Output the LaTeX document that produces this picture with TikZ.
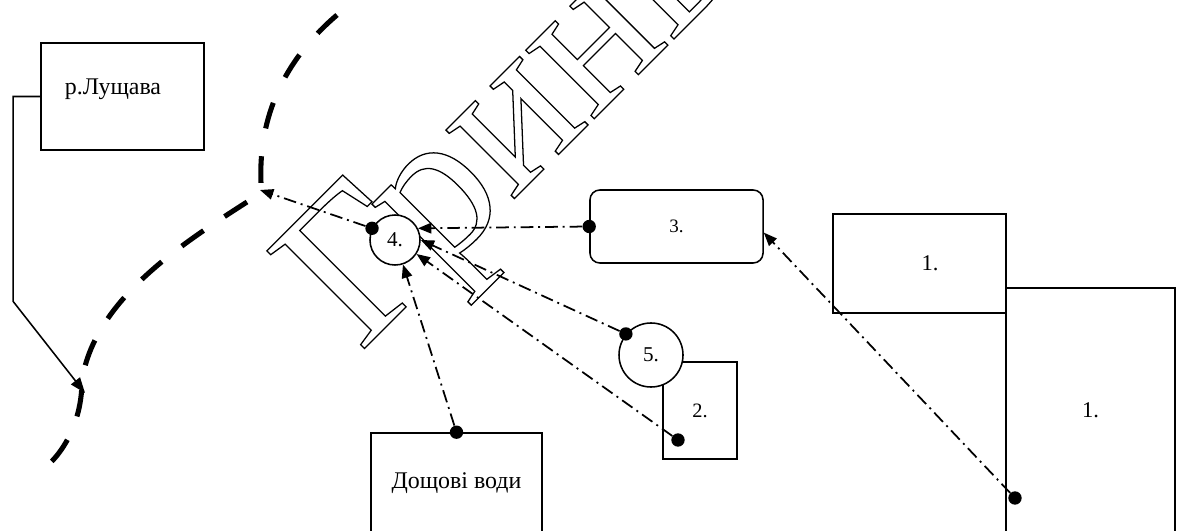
\documentclass[tikz,border=0pt]{standalone}
\usepackage{fontspec}
\setmainfont{Liberation Serif}
\usetikzlibrary{arrows.meta}

% hollow letters for the watermark
\newcommand\hollow[1]{\special{pdf:literal direct 1 Tr 0.9 w}#1\special{pdf:literal direct 0 Tr}}

\tikzset{
  box/.style={draw,line width=1.1pt,fill=white,inner sep=0pt,font=\fontsize{17}{20}\selectfont},
  well/.style={circle,draw,line width=1.1pt,fill=white,inner sep=0pt,font=\fontsize{15}{18}\selectfont},
  dot/.style={circle,fill=black,inner sep=0pt,minimum size=9.5pt},
  flow/.style={line width=1.25pt,dash pattern=on 9pt off 3.5pt on 1.4pt off 3.5pt,-{Triangle[length=9.5pt,width=7.5pt]}},
  inlet/.style={line width=1.1pt,-{Triangle[length=11pt,width=8pt]}},
  river/.style={line width=3.6pt,dash pattern=on 19pt off 18pt},
  wmark/.style={inner sep=0pt,font=\fontsize{150}{154}\selectfont}
}

\begin{document}
\begin{tikzpicture}[x=0.025cm,y=-0.025cm]
	\useasboundingbox (0,0) rectangle (1177,531);
	\clip (0,0) rectangle (1177,531);

	% Watermark
	\node[wmark,rotate=45,anchor=base west] (wm) at (360,353) {\hollow{Гринь}};

	% River
	\draw[river,dash pattern=on 19pt off 20pt] (337,15) .. controls (290,55) and (258,110) .. (261,183);
	\draw[river] (247,202) .. controls (180,245) and (95,300) .. (82,380) .. controls (82,420) and (65,450) .. (47,466);
	\coordinate (outlet) at (260,190);
	\coordinate (inflow) at (85,393);

	% Node
	\node[box,minimum width=4.075cm,minimum height=2.675cm,text width=2.875cm,align=left,text depth=14pt] (lush) at (122.5,96.5) {р.Лущава};
	\node[box,minimum width=4.325cm,minimum height=1.825cm,rounded corners=7pt,font=\fontsize{13.5}{15}\selectfont] (unit3) at (676.5,226.5) {3.};
	\node[box,minimum width=4.325cm,minimum height=2.475cm,font=\fontsize{16}{18}\selectfont] (unit1a) at (919.5,263.5) {\hspace*{15pt}1.};
	\node[box,minimum width=4.225cm,minimum height=6.6cm,text depth=13.5pt,font=\fontsize{16}{18}\selectfont] (unit1b) at (1090.5,420) {1.};
	\node[box,minimum width=1.85cm,minimum height=2.425cm,font=\fontsize{14.5}{17}\selectfont] (unit2) at (700,410.5) {2.};
	\node[box,minimum width=4.275cm,minimum height=2.85cm,text depth=12.8pt] (rain) at (456.5,490) {Дощові води};
	\node[well,minimum size=1.25cm] (well4) at (395,240) {4.};
	\node[well,minimum size=1.6cm] (well5) at (651,355) {5.};

	% Dots
	\node[dot] (d4) at (well4.153) {};
	\node[dot] (d3) at (unit3.west) {};
	\node[dot] (d5) at (well5.140) {};
	\node[dot] (d2) at (678,440) {};
	\node[dot] (drain) at (rain.north) {};
	\node[dot] (d1) at (1015,498) {};

	%link
	\draw[flow] (d4) -- (outlet);
	\draw[flow] (d3) -- (well4.27);
	\draw[flow] (d5) -- (well4.0);
	\draw[flow] (d2) -- (well4.-33);
	\draw[flow] (drain) -- (well4.-72);
	\draw[flow] (d1) -- (unit3.-4);
	\draw[inlet] (lush.west) -- ++(-27,0) -- ++(0,205) -- (inflow);

\end{tikzpicture}
\end{document}
